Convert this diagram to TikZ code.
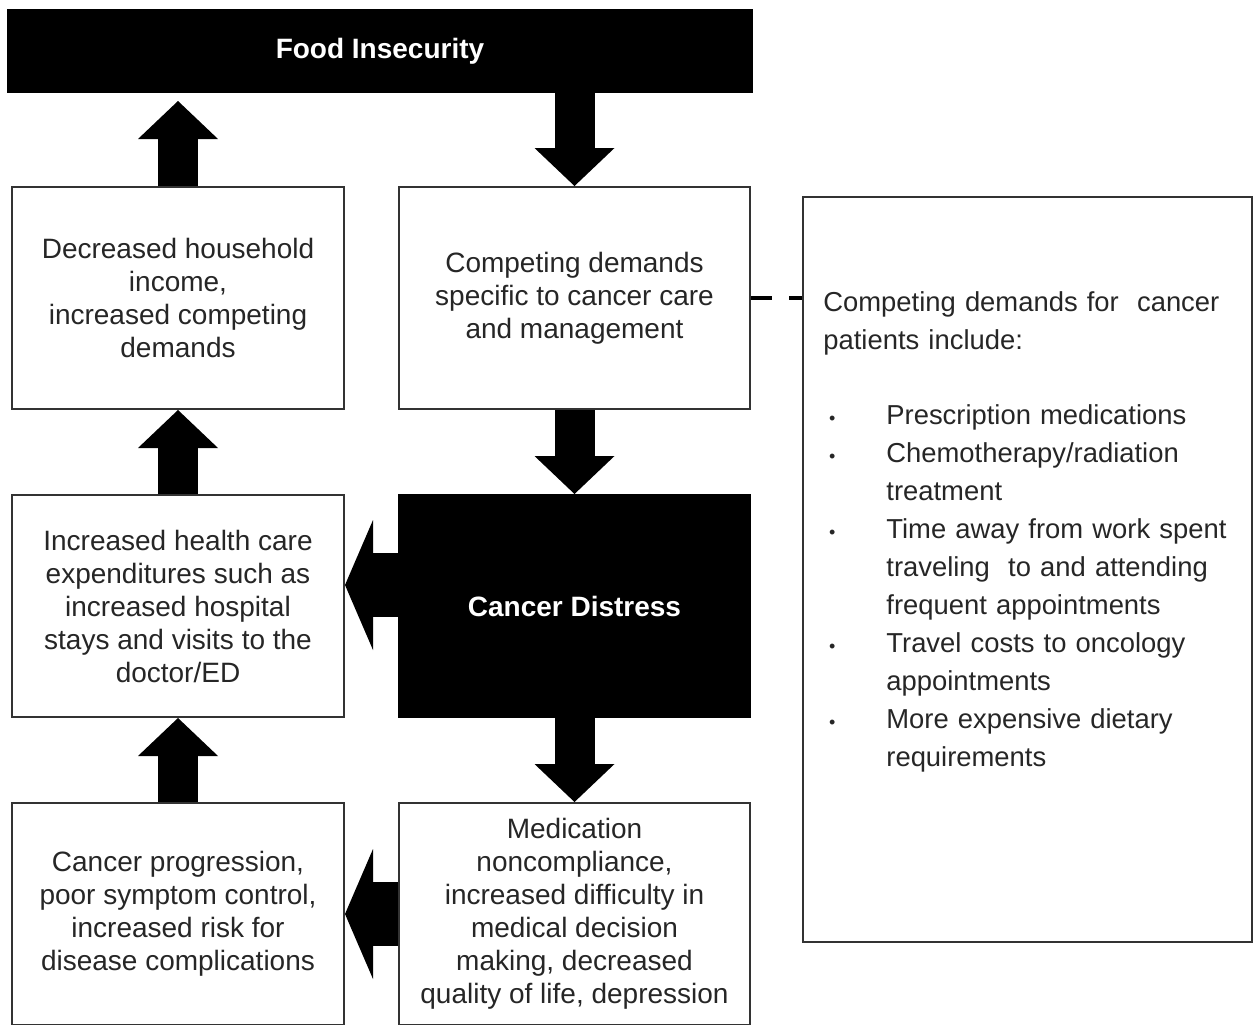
\documentclass[tikz,border=0pt]{standalone}
\usepackage{fontspec}
\setmainfont{Liberation Sans}
\usepackage{enumitem}
\usetikzlibrary{positioning,arrows.meta}

\definecolor{boxline}{gray}{0.2}
\definecolor{boxtext}{gray}{0.15}

\tikzset{
  box/.style={draw=boxline, line width=1pt, fill=white, text=boxtext, align=center,
    minimum width=166pt, minimum height=111pt, inner sep=2pt,
    font=\fontsize{14pt}{16.5pt}\selectfont},
  widebox/.style={box, minimum width=175.5pt},
  darkbox/.style={widebox, fill=black, draw=black, text=white,
    font=\bfseries\fontsize{14pt}{16.5pt}\selectfont},
  vertarrow/.style={line width=20pt, -{Triangle[length=19pt,width=40pt,line width=0pt]}},
  sidearrow/.style={line width=32pt, -{Triangle[length=14pt,width=65pt,line width=0pt]}},
  sidetext/.style={text=boxtext, align=left, text width=212pt, inner sep=0pt,
    font=\fontsize{13.7pt}{19pt}\selectfont},
}

\begin{document}
\begin{tikzpicture}[x=0.5pt, y=-0.5pt]
  \useasboundingbox (0,0) rectangle (1254,1024);

  \node[darkbox, minimum width=372pt, minimum height=41pt] (food) at (380,51) {Food Insecurity};

  \node[box] (income) at (178,298) {Decreased household\\ income,\\ increased competing\\ demands};
  \node[box, below=42pt of income] (costs) {Increased health care\\ expenditures such as\\ increased hospital\\ stays and visits to the\\ doctor/ED};
  \node[box, below=42pt of costs] (progress) {Cancer progression,\\ poor symptom control,\\ increased risk for\\ disease complications};

  \node[widebox, right=26.5pt of income] (demands) {Competing demands\\ specific to cancer care\\ and management};
  \node[darkbox, right=26.5pt of costs] (distress) {Cancer Distress};
  \node[widebox, right=26.5pt of progress] (medication) {Medication\\ noncompliance,\\ increased difficulty in\\ medical decision\\ making, decreased\\ quality of life, depression};

  \node[draw=boxline, line width=1pt, minimum width=224.5pt, minimum height=372.5pt] (side) at (1027.5,569.5) {};
  \node[sidetext, anchor=north west] (sidelist) at (823,291) {%
    Competing demands for\ \ cancer\\ patients include:
    \begin{itemize}[label={\small\textbullet}, leftmargin=31.5pt, labelsep=25.5pt,
      itemsep=0pt, parsep=0pt, topsep=18.5pt, partopsep=0pt]
      \item Prescription medications
      \item Chemotherapy/radiation\\ treatment
      \item Time away from work spent\\ traveling\ \ to and attending\\ frequent appointments
      \item Travel costs to oncology\\ appointments
      \item More expensive dietary\\ requirements
    \end{itemize}};

  \draw[vertarrow, shorten >=4pt] (income.north) -- (income.north |- food.south);
  \draw[vertarrow] (food.south -| demands.north) -- (demands.north);
  \draw[vertarrow] (demands) -- (distress);
  \draw[vertarrow] (distress) -- (medication);
  \draw[vertarrow] (costs) -- (income);
  \draw[vertarrow] (progress) -- (costs);

  \coordinate (cdout) at ([yshift=10.5pt]distress.west);
  \draw[sidearrow] (cdout) -- (cdout -| costs.east);
  \draw[sidearrow] (medication) -- (progress);

  \draw[black, line width=1.6pt, dash pattern=on 10.5pt off 8.5pt] (demands.east) -- (demands.east -| side.west);
\end{tikzpicture}
\end{document}
